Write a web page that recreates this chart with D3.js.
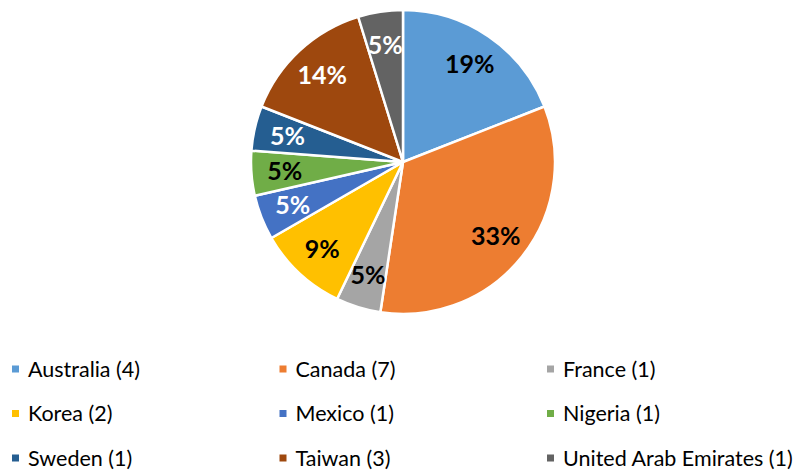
<!DOCTYPE html>
<html>
<head>
<meta charset="utf-8">
<script src="https://cdn.jsdelivr.net/npm/d3@7"></script>
<style>
  body { margin: 0; background: #fff; }
  svg { display: block; font-family: Lato, "Open Sans", sans-serif; }
</style>
</head>
<body>
<div id="chart"></div>
<script>
// data
const countries = ["Australia", "Canada", "France", "Korea", "Mexico", "Nigeria", "Sweden", "Taiwan", "United Arab Emirates"];
const counts = [4, 7, 1, 2, 1, 1, 1, 3, 1];
const pctLabels = ["19%", "33%", "5%", "9%", "5%", "5%", "5%", "14%", "5%"];

const colors = ["#5B9BD5", "#ED7D31", "#A5A5A5", "#FFC000", "#4472C4", "#70AD47", "#255E91", "#9E480E", "#636363"];
const labelColors = ["#000", "#000", "#000", "#000", "#fff", "#000", "#fff", "#fff", "#fff"];

const width = 806, height = 471;
const cx = 403, cy = 162, radius = 152;

const data = countries.map((c, i) => ({ name: c, value: counts[i], label: pctLabels[i] }));

const svg = d3.select("#chart").append("svg")
  .attr("width", width)
  .attr("height", height);

const pie = d3.pie().sort(null).value(d => d.value);
const arc = d3.arc().innerRadius(0).outerRadius(radius);
const labelArc = d3.arc().innerRadius(radius * 0.78).outerRadius(radius * 0.78);

const color = d3.scaleOrdinal().domain(countries).range(colors);

const g = svg.append("g").attr("transform", `translate(${cx},${cy})`);

const arcs = pie(data);

g.selectAll(".slice")
  .data(arcs)
  .enter()
  .append("path")
  .attr("class", "slice")
  .attr("d", arc)
  .attr("fill", d => color(d.data.name))
  .attr("stroke", "#fff")
  .attr("stroke-width", 2.5)
  .attr("stroke-linejoin", "round");

g.selectAll(".pct")
  .data(arcs)
  .enter()
  .append("text")
  .attr("class", "pct")
  .attr("transform", d => `translate(${labelArc.centroid(d)})`)
  .attr("text-anchor", "middle")
  .attr("dy", "0.36em")
  .attr("font-size", 25)
  .attr("font-weight", "bold")
  .attr("fill", (d, i) => labelColors[i])
  .text(d => d.data.label);

// legend, 3 columns
const colX = d3.scalePoint().domain([0, 1, 2]).range([12, 547]);
const rowY = d3.scalePoint().domain([0, 1, 2]).range([369, 458]);

const legend = svg.append("g").attr("class", "legend");
const item = legend.selectAll(".item")
  .data(data)
  .enter()
  .append("g")
  .attr("class", "item")
  .attr("transform", (d, i) => `translate(${colX(i % 3)},${rowY(Math.floor(i / 3))})`);

item.append("rect")
  .attr("x", 0)
  .attr("y", -3.5)
  .attr("width", 7)
  .attr("height", 7)
  .attr("fill", d => color(d.name));

item.append("text")
  .attr("x", 16)
  .attr("dy", "0.36em")
  .attr("font-size", 21.5)
  .attr("fill", "#000")
  .text(d => `${d.name} (${d.value})`);
</script>
</body>
</html>
